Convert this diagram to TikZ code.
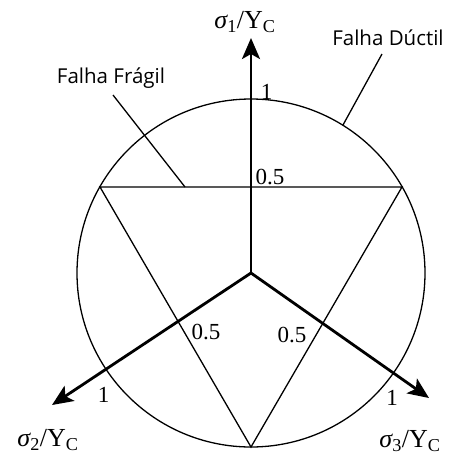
\documentclass[tikz,border=0pt]{standalone}
\usepackage{fontspec}
\setmainfont{Liberation Serif}
\newfontfamily\lblfont{Open Sans}
\usetikzlibrary{arrows.meta}
\begin{document}
\begin{tikzpicture}[x=1pt,y=-1pt,
  axisline/.style={line width=2.8pt, -{Stealth[length=21pt,width=18pt,inset=5pt]}},
  thinline/.style={line width=1.3pt},
  num/.style={font=\fontsize{23}{23}\selectfont, inner sep=0pt},
  axlabel/.style={font=\fontsize{26}{26}\selectfont, inner sep=0pt},
  lbl/.style={font=\lblfont\fontsize{20.5}{20.5}\selectfont, inner sep=0pt}]
\useasboundingbox (0,0) rectangle (458,459);
% origin and circle
\coordinate (O) at (251,273);
\node[draw, circle, minimum size=348pt, inner sep=0pt, line width=1.3pt] (C) at (O) {};
% triangle
\coordinate (T1) at (100,187);
\coordinate (T2) at (402,187);
\coordinate (T3) at (251,447);
\draw[thinline, line join=miter] (T1) -- (T2) -- (T3) -- cycle;
% axes
\coordinate (A1) at (251,38);
\coordinate (A2) at (52,405);
\coordinate (A3) at (429,398);
\draw[axisline] (O) -- (A1);
\draw[axisline] (O) -- (A2);
\draw[axisline] (O) -- (A3);
% axis labels
\node[axlabel] (L1) at (245,22) {{\itshape σ}\textsubscript{1}/Y\textsubscript{C}};
\node[axlabel] (L2) at (48,440) {{\itshape σ}\textsubscript{2}/Y\textsubscript{C}};
\node[axlabel] (L3) at (410,441) {{\itshape σ}\textsubscript{3}/Y\textsubscript{C}};
% numbers
\node[num] (n1) at (266.5,91.5) {1};
\node[num] (n05a) at (270,177) {0.5};
\node[num] (n05b) at (206,332) {0.5};
\node[num] (n05c) at (292,335) {0.5};
\node[num] (n1b) at (103.5,395) {1};
\node[num] (n1c) at (392,398) {1};
% failure labels and leaders
\node[lbl] (duc) at (388,38) {Falha Dúctil};
\node[lbl] (fra) at (111,78) {Falha Frágil};
\coordinate (d0) at (382,54);
\coordinate (d1) at (343,125);
\coordinate (f0) at (113,95);
\coordinate (f1) at (185,187);
\draw[thinline] (d0) -- (d1);
\draw[thinline] (f0) -- (f1);
\end{tikzpicture}
\end{document}
